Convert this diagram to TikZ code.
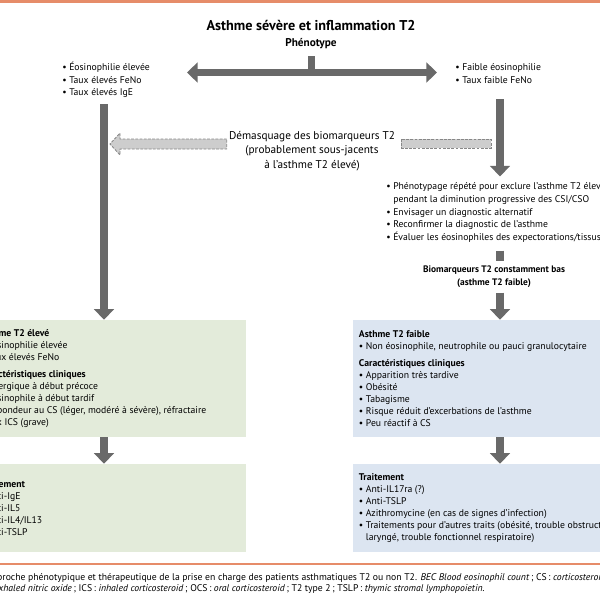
\documentclass[tikz,border=0pt]{standalone}
\usepackage{fontspec}
\setmainfont{PT Sans}
\usepackage{tikz}
\usetikzlibrary{arrows.meta}
\usetikzlibrary{calc}
\usepackage{xcolor}
\definecolor{arrowgray}{RGB}{105,105,105}
\definecolor{greenbox}{RGB}{227,235,218}
\definecolor{bluebox}{RGB}{220,229,241}
\definecolor{rulecol}{RGB}{230,140,105}
\definecolor{dashfill}{RGB}{205,205,205}
\definecolor{dashline}{RGB}{135,135,135}
\tikzset{
  titletxt/.style={font=\fontsize{10.1}{12}\selectfont\bfseries, inner sep=0pt},
  headtxt/.style={font=\fontsize{8}{9}\selectfont\bfseries, inner sep=0pt},
  listtxt/.style={font=\fontsize{6.9}{9}\selectfont, align=left, inner sep=0pt, anchor=west},
  boxtxt/.style={font=\fontsize{6.9}{8.5}\selectfont, align=left, inner sep=0pt, anchor=west},
  captxt/.style={font=\fontsize{6.9}{8}\selectfont, inner sep=0pt, anchor=base west},
  bigline/.style={draw=arrowgray, line width=5pt},
  bigarrow/.style={bigline, -{Triangle[width=14pt,length=7.5pt]}},
  dashband/.style={fill=dashfill, draw=dashline, dash pattern=on 2pt off 1pt, line width=0.6pt},
  hibox/.style={fill=greenbox, minimum width=6.8cm, minimum height=2.925cm, inner sep=0pt},
  lobox/.style={fill=bluebox, minimum width=6.8cm, minimum height=2.925cm, inner sep=0pt},
}

\begin{document}
\begin{tikzpicture}[x=0.025cm, y=-0.025cm]
\useasboundingbox (0,0) rectangle (600,600);
\clip (0,0) rectangle (600,600);

%%%%%%%%%%%%%%%%%%%%%%%%%%%%%%%%%%%%%%%%%%%%%%%%%%%%%%%%%%%%%% Header
\draw[rulecol, line width=1.8pt] (0,1.5) -- (600,1.5);
\node[titletxt] (title) at (311,25) {Asthme sévère et inflammation T2};
\node[headtxt] (pheno) at (311,44) {Phénotype};

\coordinate (split) at (311.5,56);
\coordinate (splitL) at (187,72.5);
\coordinate (splitR) at (437,72.5);
\draw[bigline] (split) -- ($(split |- splitL)+(0,2)$);
\draw[bigline, {Triangle[width=14pt,length=7.5pt]}-{Triangle[width=14pt,length=7.5pt]}] (splitL) -- (splitR);

\node[listtxt] (hiL) at (62,80) {• Éosinophilie élevée\\• Taux élevés FeNo\\• Taux élevés IgE};
\node[listtxt] (loR) at (455,73.5) {• Faible éosinophilie\\• Taux faible FeNo};

%%%%%%%%%%%%%%%%%%%%%%%%%%%%%%%%%%%%%%%%%%%%%%%%%%%%%%%%%%%%%% Middle
\coordinate (aL) at (104,104);
\coordinate (aR) at (500,99);

\node[font=\fontsize{8}{10.3}\selectfont, align=center, inner sep=0pt] (unmask) at (312,151)
  {Démasquage des biomarqueurs T2\\(probablement sous-jacents\\à l'asthme T2 élevé)};

\node[listtxt] (check) at (386,212.5)
  {• Phénotypage répété pour exclure l'asthme T2 élevé\\
   \phantom{• }pendant la diminution progressive des CSI/CSO\\
   • Envisager un diagnostic alternatif\\
   • Reconfirmer la diagnostic de l'asthme\\
   • Évaluer les éosinophiles des expectorations/tissus};

\node[font=\fontsize{6.7}{9}\selectfont\bfseries, align=center, inner sep=0pt] (lowbio) at (494,276.5)
  {Biomarqueurs T2 constamment bas\\(asthme T2 faible)};

% dashed unmasking arrow
\coordinate (dR) at (491,144);
\coordinate (dL) at ($(aL |- dR)+(6,0)$);
\coordinate (uL) at ($(unmask.west |- dR)+(-2,0)$);
\coordinate (uR) at ($(unmask.east |- dR)+(6,0)$);
\draw[dashband] ($(uR)+(0,-5)$) rectangle ($(dR)+(0,4)$);
\draw[dashband] ($(uL)+(0,-5)$) -- ($(dL)+(10,-5)$) -- ($(dL)+(10,-11)$) -- (dL)
  -- ($(dL)+(10,11)$) -- ($(dL)+(10,5)$) -- ($(uL)+(0,5)$) -- cycle;

%%%%%%%%%%%%%%%%%%%%%%%%%%%%%%%%%%%%%%%%%%%%%%%%%%%%%%%%%%%%%% Boxes
\node[hibox] (hi) at (110,378.5) {};
\node[lobox] (lo) at (489,378.5) {};
\node[hibox, minimum height=2.2cm] (hitr) at (110,508) {};
\node[lobox, minimum height=2.2cm] (lotr) at (489,508) {};

\node[boxtxt] (hitxt) at ($(hi.west)+(6,0)$)
  {\textbf{Asthme T2 élevé}\\
   • Éosinophilie élevée\\
   • Taux élevés FeNo\\[4pt]
   \textbf{Caractéristiques cliniques}\\
   • Allergique à début précoce\\
   • Éosinophile à début tardif\\
   • Répondeur au CS (léger, modéré à sévère), réfractaire\\
   \phantom{• }aux ICS (grave)};
\node[boxtxt] (lotxt) at ($(lo.west)+(6,0)$)
  {\textbf{Asthme T2 faible}\\
   • Non éosinophile, neutrophile ou pauci granulocytaire\\[4pt]
   \textbf{Caractéristiques cliniques}\\
   • Apparition très tardive\\
   • Obésité\\
   • Tabagisme\\
   • Risque réduit d'excerbations de l'asthme\\
   • Peu réactif à CS};
\node[boxtxt] (hitrtxt) at ($(hitr.west)+(6,0)$)
  {\textbf{Traitement}\\
   • Anti-IgE\\
   • Anti-IL5\\
   • Anti-IL4/IL13\\
   • Anti-TSLP};
\node[boxtxt] (lotrtxt) at ($(lotr.west)+(6,0)$)
  {\textbf{Traitement}\\
   • Anti-IL17ra (?)\\
   • Anti-TSLP\\
   • Azithromycine (en cas de signes d'infection)\\
   • Traitements pour d'autres traits (obésité, trouble obstructif\\
   \phantom{• }laryngé, trouble fonctionnel respiratoire)};

%%%%%%%%%%%%%%%%%%%%%%%%%%%%%%%%%%%%%%%%%%%%%%%%%%%%%%%%%%%%%% Arrows
\draw[bigarrow] (aL) -- (aL |- hi.north);
\draw[bigarrow] (aR) -- ($(aR |- check.north)+(0,-6)$);
\draw[bigline] ($(aR |- check.south)+(0,8)$) -- ($(aR |- lowbio.north)+(0,-4)$);
\draw[bigarrow] ($(aR |- lowbio.south)+(0,5)$) -- (aR |- lo.north);
\draw[bigarrow] (hi.south -| aL) -- (hitr.north -| aL);
\draw[bigarrow] (lo.south -| aR) -- (lotr.north -| aR);

%%%%%%%%%%%%%%%%%%%%%%%%%%%%%%%%%%%%%%%%%%%%%%%%%%%%%%%%%%%%%% Caption
\draw[rulecol, line width=0.9pt] (0,564) -- (600,564);
\node[captxt] (cap1) at (-14,580)
  {Approche phénotypique et thérapeutique de la prise en charge des patients asthmatiques T2 ou non T2. \textit{BEC Blood eosinophil count}\,; CS\,: \textit{corticosteroid}};
\node[captxt] (cap2) at (-6,591)
  {\textit{exhaled nitric oxide}\,; ICS\,: \textit{inhaled corticosteroid}\,; OCS\,: \textit{oral corticosteroid}\,; T2 type 2\,; TSLP\,: \textit{thymic stromal lymphopoietin.}};

\end{tikzpicture}
\end{document}
